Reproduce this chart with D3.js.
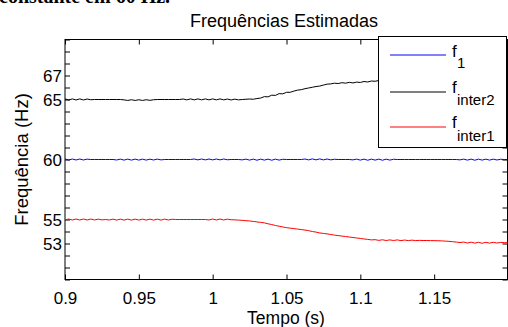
<!DOCTYPE html>
<html><head><meta charset="utf-8">
<script src="https://cdn.jsdelivr.net/npm/d3@7"></script>
<style>
html,body{margin:0;padding:0;background:#fff;}
svg{display:block;}
text{font-family:"Liberation Sans",Arial,sans-serif;}
</style></head>
<body>
<div id="chart"></div>
<script>
// ---- DATA ----
const title = "Frequências Estimadas";
const xLabel = "Tempo (s)";
const yLabel = "Frequência (Hz)";
const tStart = 0.9, tEnd = 1.2, tStep = 0.0025;
const xTickValues = [0.9, 0.95, 1.0, 1.05, 1.1, 1.15];
const xTickLabels = ["0.9", "0.95", "1", "1.05", "1.1", "1.15"];
const yLabelledTicks = [53, 55, 60, 65, 67];
const seriesNames = ["f1", "finter2", "finter1"];

const f1 = [
60.04,59.96,60.04,59.96,60.04,59.96,60.03,60,60,60,
60,60,60,60,59.96,60.03,59.95,60.03,59.95,60.03,
59.95,60.03,59.95,60.03,59.96,60.03,59.97,60,60,60,
60,60,60,60,60,60.04,59.97,60.04,59.97,60.04,
59.97,60.04,59.97,60.04,59.98,60,60,60,59.97,60.03,
59.95,60.03,59.94,60.03,59.95,60.03,59.94,60.03,59.95,60.02,
60,60,60,60,60,60.04,59.97,60.05,59.97,60.05,
59.97,60.04,59.97,60.02,60,60,60,60,59.97,60.03,
59.95,60.03,59.94,60.03,59.95,60.03,59.94,60.03,59.95,60.02,
60,60,60,60,60,60,60,60,60,60,
60,60,60,60,60,60,60,59.97,60.03,59.95,
60.03,59.94,60.03,59.95,60.03,59.95,60.03,59.96,60.02,60,
60];

const finter2 = [
65.05,64.96,65.05,64.96,65.05,64.96,65.04,64.98,65,65,
65,65,65,65,65,65,64.97,64.92,64.98,64.92,
64.98,64.92,64.98,64.93,64.98,65,65,65,65,65,
65,65,65.04,64.97,65.05,64.97,65.05,64.97,65.05,64.97,
65.05,64.97,65.05,64.97,65.04,64.96,65.03,64.97,65,65.02,
65.04,65.02,65.08,65.12,65.24,65.22,65.36,65.34,65.49,65.47,
65.6,65.6,65.7,65.78,65.82,65.9,65.96,66.02,66.08,66.12,
66.2,66.28,66.3,66.36,66.33,66.4,66.36,66.43,66.38,66.45,
66.42,66.5,66.46,66.54,66.52,66.58,66.56,66.6,66.58,66.62,
66.62,66.64,66.63,66.66,66.65,66.67,66.67,66.68,66.68,66.69,
66.69,66.7,66.7,66.71,66.71,66.72,66.72,66.72,66.73,66.73,
66.73,66.74,66.74,66.74,66.75,66.75,66.75,66.75,66.76,66.76,
66.76];

const finter1 = [
54.96,55.04,54.96,55.04,54.96,55.04,54.96,55.04,54.96,55.03,
54.97,55,54.96,55.03,54.95,55.03,54.95,55.03,54.95,55.03,
54.95,55.03,54.95,55.03,54.95,55.03,54.95,55.03,54.96,55.02,
55,55,55,55,55,55,55,55,55,54.96,
55.04,54.96,55.04,54.96,55.03,54.98,54.97,54.95,54.93,54.9,
54.88,54.84,54.8,54.76,54.72,54.64,54.58,54.5,54.44,54.38,
54.32,54.28,54.24,54.2,54.16,54.12,54.07,54.0,53.95,53.88,
53.84,53.8,53.75,53.7,53.66,53.62,53.58,53.54,53.5,53.46,
53.42,53.38,53.34,53.3,53.32,53.26,53.31,53.25,53.3,53.25,
53.3,53.24,53.29,53.24,53.28,53.24,53.26,53.25,53.25,53.24,
53.24,53.23,53.22,53.2,53.18,53.15,53.12,53.08,53.12,53.04,
53.11,53.03,53.1,53.02,53.1,53.03,53.1,53.04,53.09,53.07,
53.07];

// ---- CHART ----
const W = 508, H = 327;
const L = 65, R = 507.5, T = 39.5, B = 279.5;
const svg = d3.select("#chart").append("svg").attr("width", W).attr("height", H);

const times = d3.range(f1.length).map(i => tStart + i * tStep);
const x = d3.scaleLinear().domain([tStart, tEnd]).range([L, 508]);
const y = d3.scaleLinear().domain([50, 70]).range([B, T]);

// cut-off document text at the very top
svg.append("text").attr("x", -1).attr("y", 3)
  .style("font-family", "'Liberation Serif','Times New Roman',serif")
  .style("font-size", "20px").style("font-weight", "bold")
  .text("constante em 60 Hz.");

const yTicks = d3.range(50, 71, 1);
const fs = "17px";

const gLeft = svg.append("g").attr("transform", `translate(${L},0)`)
  .call(d3.axisLeft(y).tickValues(yTicks).tickSizeInner(-5).tickSizeOuter(0).tickPadding(3)
    .tickFormat(d => yLabelledTicks.includes(d) ? String(d) : ""));
const gRight = svg.append("g").attr("transform", `translate(${R},0)`)
  .call(d3.axisRight(y).tickValues(yTicks).tickSizeInner(-5).tickSizeOuter(0).tickFormat(""));
const gBottom = svg.append("g").attr("transform", `translate(0,${B})`)
  .call(d3.axisBottom(x).tickValues(xTickValues).tickSizeInner(-5).tickSizeOuter(0).tickPadding(12)
    .tickFormat((d, i) => xTickLabels[i]));
const gTop = svg.append("g").attr("transform", `translate(0,${T})`)
  .call(d3.axisTop(x).tickValues(xTickValues).tickSizeInner(-5).tickSizeOuter(0).tickFormat(""));

[gLeft, gRight, gBottom, gTop].forEach(g => {
  g.select(".domain").remove();
  g.selectAll("line").attr("stroke", "#000");
  g.selectAll("text").style("font-size", fs).attr("fill", "#000")
    .style("font-family", "'Liberation Sans',Arial,sans-serif");
});
gLeft.selectAll("text").attr("dy", "0.36em");

// frame
svg.append("rect").attr("x", L).attr("y", T).attr("width", R - L).attr("height", B - T)
  .attr("fill", "none").attr("stroke", "#000").attr("stroke-width", 1);

// lines
const line = d3.line().x((d, i) => x(times[i])).y(d => y(d));
const colors = {f1: "#0000ff", finter2: "#000000", finter1: "#ff0000"};
const dataMap = {f1, finter2, finter1};
const clip = svg.append("clipPath").attr("id", "clip").append("rect")
  .attr("x", L).attr("y", T).attr("width", R - L).attr("height", B - T);
["finter1", "f1", "finter2"].forEach(k => {
  svg.append("path").datum(dataMap[k]).attr("d", line)
    .attr("fill", "none").attr("stroke", colors[k]).attr("stroke-width", 1)
    .attr("clip-path", "url(#clip)");
});

// title and labels
svg.append("text").attr("x", 284).attr("y", 27).attr("text-anchor", "middle")
  .style("font-size", "18px").text(title);
svg.append("text").attr("x", 286).attr("y", 324).attr("text-anchor", "middle")
  .style("font-size", "17.5px").text(xLabel);
svg.append("text").attr("transform", `translate(28,${(T + B) / 2}) rotate(-90)`)
  .attr("text-anchor", "middle").style("font-size", "18.5px").text(yLabel);

// legend
const lg = svg.append("g");
lg.append("rect").attr("x", 378.5).attr("y", 36.5).attr("width", 128).attr("height", 111)
  .attr("fill", "#fff").attr("stroke", "#000");
const legendItems = [
  {key: "f1", sub: "1", ly: 55, fy: 57, sy: 68},
  {key: "finter2", sub: "inter2", ly: 92, fy: 93, sy: 105},
  {key: "finter1", sub: "inter1", ly: 127, fy: 128, sy: 141}
];
legendItems.forEach(it => {
  lg.append("line").attr("x1", 390).attr("x2", 446).attr("y1", it.ly).attr("y2", it.ly)
    .attr("stroke", colors[it.key]).attr("stroke-width", 1);
  lg.append("text").attr("x", 452).attr("y", it.fy).style("font-size", "17px").text("f");
  lg.append("text").attr("x", 457).attr("y", it.sy).style("font-size", "15px").text(it.sub);
});
</script>
</body></html>
